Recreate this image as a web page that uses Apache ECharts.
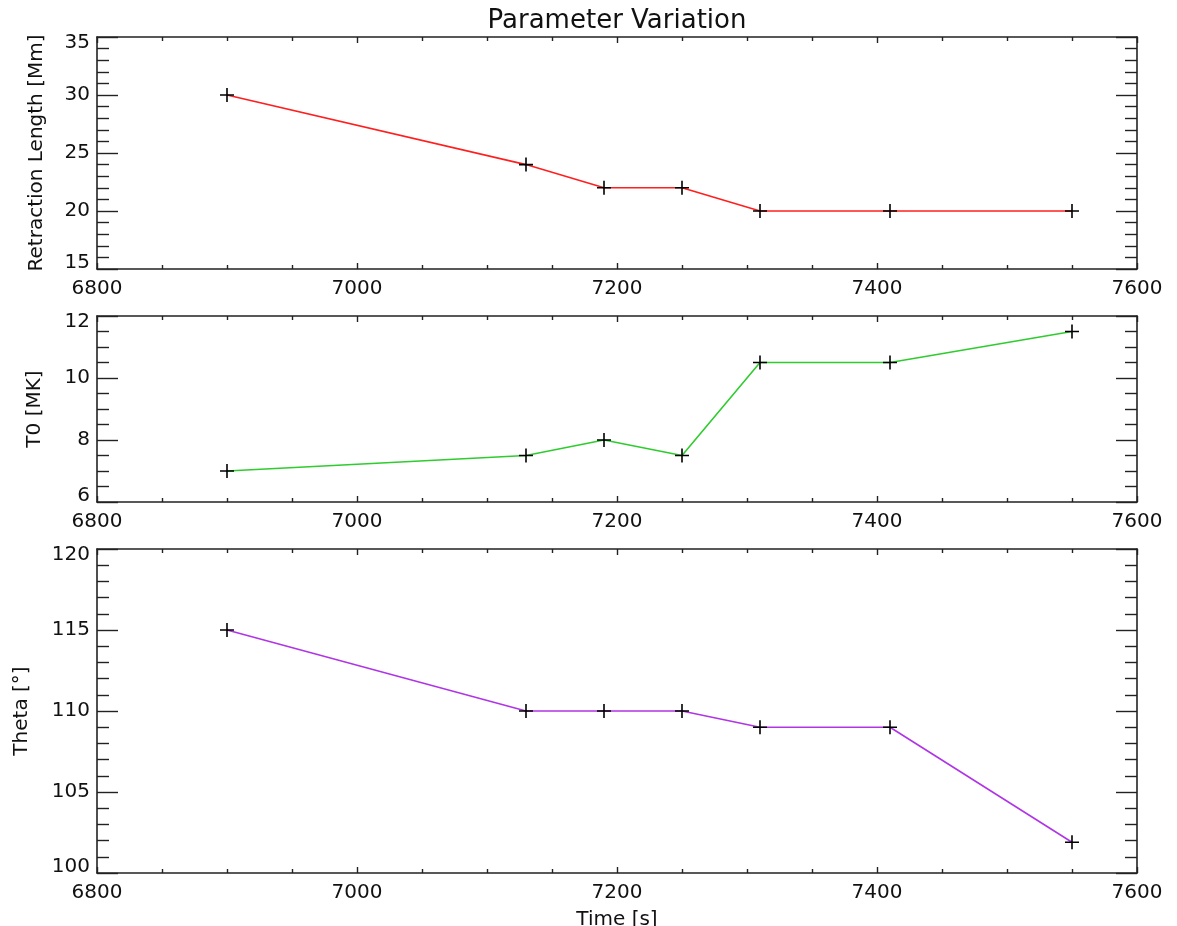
<!DOCTYPE html>
<html>
<head>
<meta charset="utf-8">
<script src="https://cdn.jsdelivr.net/npm/echarts@6/dist/echarts.min.js"></script>
<style>
html,body{margin:0;padding:0;background:#fff;}
#chart{width:1177px;height:926px;}
</style>
</head>
<body>
<div id="chart"></div>
<script>
// ---- data ----
const timeValues = [6900, 7130, 7190, 7250, 7310, 7410, 7550];
const retractionLength = [30, 24, 22, 22, 20, 20, 20];
const temperatureT0 = [7, 7.5, 8, 7.5, 10.5, 10.5, 11.5];
const thetaValues = [115, 110, 110, 110, 109, 109, 101.9];
const xTicks = [6800, 7000, 7200, 7400, 7600];

const titleText = 'Parameter Variation';
const yNames = ['Retraction Length [Mm]', 'T0 [MK]', 'Theta [°]'];
const xName = 'Time [s]';

// ---- styling / layout ----
const FONT = 'DejaVu Sans';
const AX = '#222';
const grids = [
  {left: 97, width: 1040, top: 37, height: 232, outerBoundsMode: 'none'},
  {left: 97, width: 1040, top: 316, height: 186, outerBoundsMode: 'none'},
  {left: 97, width: 1040, top: 549, height: 324, outerBoundsMode: 'none'}
];
const yRanges = [
  {min: 15, max: 35, interval: 5, minorSplit: 5, nameGap: 50},
  {min: 6, max: 12, interval: 2, minorSplit: 4, nameGap: 52},
  {min: 100, max: 120, interval: 5, minorSplit: 5, nameGap: 65}
];
const colors = ['#ff1f1f', '#2fcc2f', '#b035e6'];
const seriesValues = [retractionLength, temperatureT0, thetaValues];

const plus = 'path://M-0.8,-7 L0.8,-7 L0.8,-0.8 L7,-0.8 L7,0.8 L0.8,0.8 L0.8,7 L-0.8,7 L-0.8,0.8 L-7,0.8 L-7,-0.8 L-0.8,-0.8 Z';

const labelStyle = {color: '#111', fontFamily: FONT, fontSize: 20};

const xAxes = [], yAxes = [], series = [];
for (let i = 0; i < 3; i++) {
  const common = {
    type: 'value', gridIndex: i, min: xTicks[0], max: xTicks[xTicks.length - 1], interval: 200,
    axisLine: {show: true, onZero: false, lineStyle: {color: AX, width: 1.6}},
    splitLine: {show: false}
  };
  xAxes.push(Object.assign({}, common, {
    position: 'bottom',
    axisTick: {show: true, inside: true, length: 6, lineStyle: {color: AX, width: 1.4}},
    minorTick: {show: true, splitNumber: 4, length: 4, lineStyle: {color: AX, width: 1.4}},
    axisLabel: Object.assign({show: true, margin: 10, formatter: v => String(v)}, labelStyle),
    name: i === 2 ? xName : '', nameLocation: 'middle', nameGap: 37,
    nameTextStyle: labelStyle
  }));
  xAxes.push(Object.assign({}, common, {
    position: 'top',
    axisTick: {show: true, inside: true, length: 6, lineStyle: {color: AX, width: 1.4}},
    minorTick: {show: true, splitNumber: 4, length: 4, lineStyle: {color: AX, width: 1.4}},
    axisLabel: {show: false}
  }));
  const yr = yRanges[i];
  const ycommon = {
    type: 'value', gridIndex: i, min: yr.min, max: yr.max, interval: yr.interval,
    axisLine: {show: true, onZero: false, lineStyle: {color: AX, width: 1.6}},
    axisTick: {show: true, inside: true, length: 21, lineStyle: {color: AX, width: 1.4}},
    minorTick: {show: true, splitNumber: yr.minorSplit, length: 12, lineStyle: {color: AX, width: 1.4}},
    splitLine: {show: false}
  };
  yAxes.push(Object.assign({}, ycommon, {
    position: 'left',
    axisLabel: Object.assign({
      show: true, margin: 7,
      formatter: v => v === yr.max ? '{hi|' + v + '}' : (v === yr.min ? '{lo|' + v + '}' : String(v)),
      rich: {
        hi: Object.assign({padding: [12, 0, 0, 0]}, labelStyle),
        lo: Object.assign({padding: [0, 0, 12, 0]}, labelStyle)
      }
    }, labelStyle),
    name: yNames[i], nameLocation: 'middle', nameRotate: 90, nameGap: yr.nameGap,
    nameTextStyle: labelStyle
  }));
  yAxes.push(Object.assign({}, ycommon, {
    position: 'right',
    axisLabel: {show: false}
  }));
  series.push({
    type: 'line',
    xAxisIndex: 2 * i, yAxisIndex: 2 * i,
    data: timeValues.map((t, k) => [t, seriesValues[i][k]]),
    lineStyle: {color: colors[i], width: 1.6},
    itemStyle: {color: '#000'},
    symbol: plus, symbolSize: 14, showAllSymbol: true,
    animation: false, z: 3
  });
}

const chart = echarts.init(document.getElementById('chart'), null, {renderer: 'canvas'});
chart.setOption({
  backgroundColor: '#fff',
  animation: false,
  title: {text: titleText, left: 612, top: 3, textAlign: 'center',
    textStyle: {fontFamily: FONT, fontWeight: 'normal', fontSize: 26, color: '#111'}},
  grid: grids,
  xAxis: xAxes,
  yAxis: yAxes,
  series: series
});
</script>
</body>
</html>
